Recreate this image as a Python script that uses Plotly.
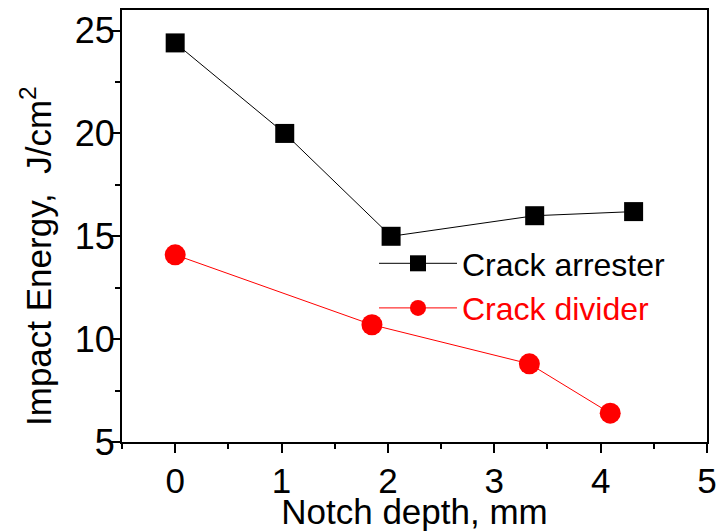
import plotly.graph_objects as go

arrester_x = [0.0, 1.03, 2.03, 3.38, 4.31]
arrester_y = [24.4, 20.0, 15.0, 16.0, 16.2]
divider_x = [0.0, 1.85, 3.33, 4.09]
divider_y = [14.1, 10.7, 8.8, 6.4]

x_ticks = [0, 1, 2, 3, 4, 5]
y_ticks = [5, 10, 15, 20, 25]

FONT = "Liberation Sans, Arial, sans-serif"

fig = go.Figure()
fig.add_trace(go.Scatter(
    x=arrester_x, y=arrester_y, mode="lines+markers", name="Crack arrester",
    line=dict(color="black", width=1),
    marker=dict(symbol="square", size=19, color="black"),
))
fig.add_trace(go.Scatter(
    x=divider_x, y=divider_y, mode="lines+markers",
    name="<span style='color:#ff0000'>Crack divider</span>",
    line=dict(color="#ff0000", width=1),
    marker=dict(symbol="circle", size=21, color="#ff0000"),
))

axis_common = dict(
    showgrid=False, zeroline=False, showline=True, linecolor="black", linewidth=2,
    mirror=True, ticks="outside", ticklen=9, tickwidth=2, tickcolor="black",
    ticklabeloverflow="allow",
)

fig.update_xaxes(
    range=[-0.5, 5], tickvals=x_ticks, ticktext=[str(v) for v in x_ticks],
    minor=dict(dtick=0.5, ticks="outside", ticklen=5, tickwidth=2, tickcolor="black"),
    tickfont=dict(family=FONT, size=35, color="black"),
    ticklabelstandoff=-2,
    title=dict(text="Notch depth, mm", font=dict(family=FONT, size=35, color="black"), standoff=8),
    **axis_common,
)
fig.update_yaxes(
    range=[5, 26], tickvals=y_ticks, ticktext=[str(v) for v in y_ticks],
    minor=dict(dtick=2.5, ticks="outside", ticklen=5, tickwidth=2, tickcolor="black"),
    tickfont=dict(family=FONT, size=36, color="black"),
    ticklabelstandoff=-11,
    **axis_common,
)

fig.add_annotation(
    text="Impact Energy,  J/cm<sup>2</sup>", textangle=-90,
    xref="paper", yref="paper", x=0, y=(442 - 256) / 432,
    xanchor="center", yanchor="middle", xshift=36 - 122, showarrow=False,
    font=dict(family=FONT, size=35, color="black"),
)

fig.update_layout(
    width=716, height=531,
    margin=dict(l=122, r=9, t=10, b=89, autoexpand=False),
    paper_bgcolor="white", plot_bgcolor="white",
    showlegend=True,
    legend=dict(
        x=(374 - 122) / 585, xanchor="left", y=(442 - 236) / 432, yanchor="top",
        bgcolor="rgba(0,0,0,0)", borderwidth=0,
        font=dict(family=FONT, size=32, color="black"),
        itemwidth=78, tracegroupgap=0,
    ),
    font=dict(family=FONT),
)

fig.write_html("out.html")
